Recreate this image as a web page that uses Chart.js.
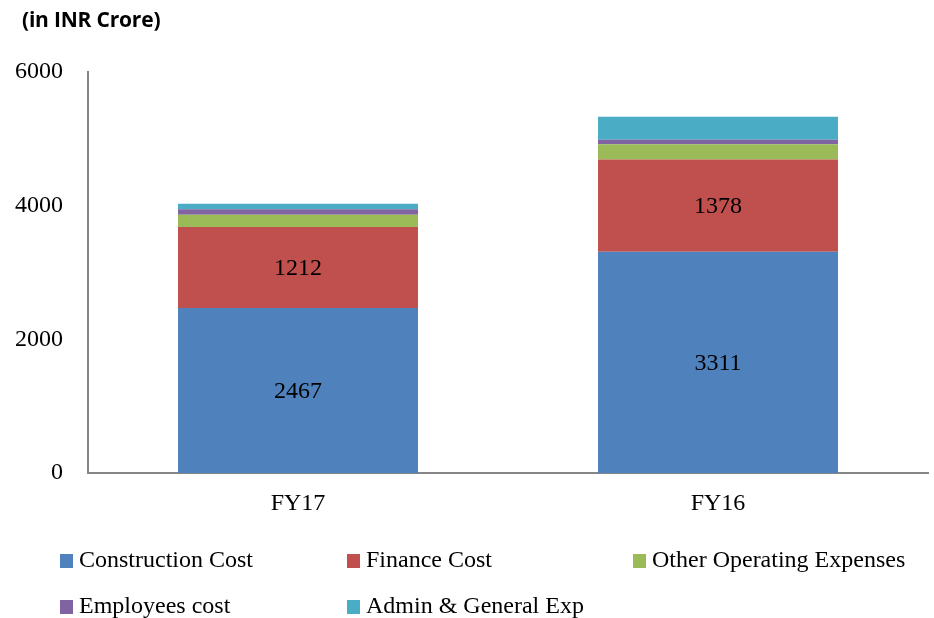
<!DOCTYPE html>
<html>
<head>
<meta charset="utf-8">
<script src="https://cdn.jsdelivr.net/npm/chart.js@4"></script>
<style>
  body { margin: 0; background: #fff; }
  #wrap { position: relative; width: 934px; height: 618px; }
  #title { position: absolute; left: 22px; top: 5px; font: bold 21px "Open Sans", sans-serif; color: #000; letter-spacing: -0.2px; }
  .leg { position: absolute; font: 24px "Liberation Serif", serif; color: #000; white-space: nowrap; line-height: 24px; }
  .leg span.box { display: inline-block; width: 13px; height: 14px; margin-right: 6px; vertical-align: -1px; }
</style>
</head>
<body>
<div id="wrap">
  <canvas id="costos" width="934" height="618"></canvas>
  <div id="title">(in INR Crore)</div>
  <div id="legend"></div>
</div>
<script>
// datos del grafico
var years = ['FY17', 'FY16'];
var construction = [2467, 3311];
var finance = [1212, 1378];
var otherOpex = [184, 229];
var employees = [85, 69];
var admin = [79, 344];
var seriesNames = ['Construction Cost', 'Finance Cost', 'Other Operating Expenses', 'Employees cost', 'Admin & General Exp'];
var seriesColors = ['#4F81BD', '#C0504D', '#9BBB59', '#8064A2', '#4BACC6'];
var yTicks = [0, 2000, 4000, 6000];

var serif = '"Liberation Serif", serif';

// etiquetas dentro de las barras (solo las dos primeras series)
var valueLabels = {
  id: 'valueLabels',
  afterDatasetsDraw: function(chart) {
    var ctx = chart.ctx;
    ctx.save();
    ctx.font = '24px ' + serif;
    ctx.fillStyle = '#000';
    ctx.textAlign = 'center';
    ctx.textBaseline = 'middle';
    [0, 1].forEach(function(di) {
      var meta = chart.getDatasetMeta(di);
      meta.data.forEach(function(bar, i) {
        ctx.fillText(chart.data.datasets[di].data[i], bar.x, (bar.y + bar.base) / 2 + 1);
      });
    });
    ctx.restore();
  }
};

var config = {
  type: 'bar',
  data: {
    labels: years,
    datasets: [
      { label: seriesNames[0], data: construction, backgroundColor: seriesColors[0] },
      { label: seriesNames[1], data: finance, backgroundColor: seriesColors[1] },
      { label: seriesNames[2], data: otherOpex, backgroundColor: seriesColors[2] },
      { label: seriesNames[3], data: employees, backgroundColor: seriesColors[3] },
      { label: seriesNames[4], data: admin, backgroundColor: seriesColors[4] }
    ]
  },
  options: {
    responsive: false,
    animation: false,
    layout: { padding: { top: 72, right: 6, bottom: 0, left: 0 } },
    categoryPercentage: 1,
    barPercentage: 0.5714,
    plugins: {
      legend: { display: false },
      tooltip: { enabled: false }
    },
    scales: {
      x: {
        stacked: true,
        grid: { display: false, drawTicks: false },
        border: { display: true, color: '#868686', width: 2 },
        ticks: { color: '#000', font: { family: serif, size: 24 }, padding: 16 },
        afterFit: function(scale) { scale.height = 145; }
      },
      y: {
        stacked: true,
        min: 0,
        max: 6000,
        grid: { display: false, drawTicks: false },
        border: { display: true, color: '#868686', width: 2 },
        afterBuildTicks: function(scale) {
          scale.ticks = yTicks.map(function(v) { return { value: v }; });
        },
        ticks: {
          color: '#000',
          font: { family: serif, size: 24 },
          padding: 25,
          callback: function(value) { return String(value); }
        },
        afterFit: function(scale) { scale.width = 88; }
      }
    }
  },
  plugins: [valueLabels]
};

if (!!document.getElementById('costos').getContext('2d')) {
  var chart = new Chart(document.getElementById('costos').getContext('2d'), config);
}

// leyenda en grilla, como en el original
var legendPos = [[60, 547], [347, 547], [633, 547], [60, 593], [347, 593]];
var legendDiv = document.getElementById('legend');
seriesNames.forEach(function(name, i) {
  var d = document.createElement('div');
  d.className = 'leg';
  d.style.left = legendPos[i][0] + 'px';
  d.style.top = legendPos[i][1] + 'px';
  var b = document.createElement('span');
  b.className = 'box';
  b.style.background = seriesColors[i];
  d.appendChild(b);
  d.appendChild(document.createTextNode(name));
  legendDiv.appendChild(d);
});
</script>
</body>
</html>
